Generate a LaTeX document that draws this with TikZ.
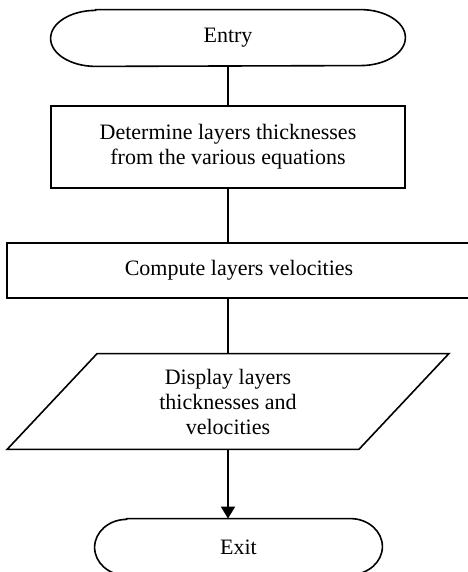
\documentclass[tikz,border=0pt]{standalone}
\usepackage{fontspec}
\setmainfont{Liberation Serif}
\usetikzlibrary{arrows.meta,calc}

% outline of a start/stop box: flat top and bottom, half ellipses at the ends
\newcommand{\terminalshape}[2]{%
  \draw[thick] ([xshift=#2]#1.north west) -- ([xshift=-#2]#1.north east)
    arc[start angle=90, end angle=-90, x radius=#2, y radius=14pt]
    -- ([xshift=#2]#1.south west)
    arc[start angle=270, end angle=90, x radius=#2, y radius=14pt] -- cycle;}
% outline of an input/output box: top pushed right, bottom pushed left
\newcommand{\ioshape}[2]{%
  \draw[thick] ([xshift=#2]#1.north west) -- ([xshift=#2]#1.north east)
    -- ([xshift=-#2]#1.south east) -- ([xshift=-#2]#1.south west) -- cycle;}

\tikzset{
  chart/.style={font=\fontsize{11}{12.5}\selectfont, align=center},
  terminal/.style={chart, minimum height=28pt, inner sep=0pt},
  process/.style={chart, draw, thick, rectangle, inner sep=0pt},
  io/.style={chart, rectangle, inner sep=0pt, minimum width=175.5pt, minimum height=47.5pt},
  flow/.style={thick},
}

\begin{document}
\begin{tikzpicture}[x=0.5pt,y=0.5pt]
\useasboundingbox (0,0) rectangle (467,572);

\node[terminal, minimum width=177pt] (entry) at (228,534) {Entry};
\terminalshape{entry}{22.5pt}

\node[process, minimum width=177pt, minimum height=41pt] (layers) at (228,425)
  {Determine layers thicknesses\\from the various equations};
\node[process, minimum width=232pt, minimum height=27.5pt] (veloc) at (239,301.5)
  {Compute layers velocities};
\node[io] (display) at (228,170.5)
  {Display layers\\thicknesses and\\velocities};
\ioshape{display}{22.5pt}

\node[terminal, minimum width=143.5pt] (exit) at (238.5,25) {Exit};
\terminalshape{exit}{16pt}

% connectors
\draw[flow] (entry.south) -- (layers.north);
\draw[flow] (layers.south) -- (layers.south |- veloc.north);
\draw[flow] (display.north |- veloc.south) -- (display.north);
\draw[flow,-{Triangle[width=7pt,length=6pt]}] (display.south) -- (display.south |- exit.north);
\end{tikzpicture}
\end{document}
